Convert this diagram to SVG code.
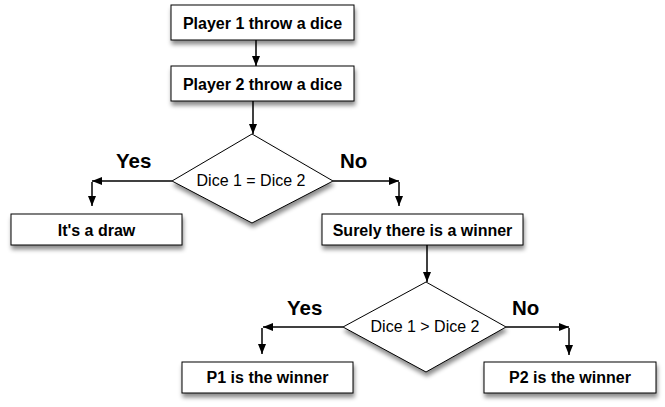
<svg xmlns="http://www.w3.org/2000/svg" width="665" height="407" viewBox="0 0 665 407">
<defs>
<filter id="sh" x="-20%" y="-30%" width="140%" height="170%">
<feDropShadow dx="1" dy="4" stdDeviation="2" flood-color="#000" flood-opacity="0.45"/>
</filter>
<marker id="ah" viewBox="0 0 10 8" refX="10" refY="4" markerWidth="10" markerHeight="8" markerUnits="userSpaceOnUse" orient="auto">
<path d="M0,0 L10,4 L0,8 Z" fill="#000"/>
</marker>
<style>
.box{fill:#fff;stroke:#000;stroke-width:1;filter:url(#sh)}
.bt{font-family:"Liberation Sans",Arial,sans-serif;font-weight:bold;font-size:16px;text-anchor:middle;fill:#000}
.dt{font-family:"Liberation Sans",Arial,sans-serif;font-size:16px;text-anchor:middle;fill:#000}
.lb{font-family:"Liberation Sans",Arial,sans-serif;font-weight:bold;font-size:20.5px;fill:#000}
.c{fill:none;stroke:#000;stroke-width:1.5;marker-end:url(#ah)}
</style>
</defs>
<rect width="665" height="407" fill="#fff"/>
<g id="connectors">
<line class="c" x1="256" y1="40" x2="256" y2="66"/>
<line class="c" x1="253" y1="101" x2="253" y2="134"/>
<line class="c" x1="172" y1="181" x2="92" y2="181"/>
<line class="c" x1="92" y1="182" x2="92" y2="206"/>
<line class="c" x1="333" y1="181" x2="399" y2="181"/>
<line class="c" x1="399" y1="182" x2="399" y2="206"/>
<line class="c" x1="427" y1="245" x2="427" y2="282"/>
<line class="c" x1="343" y1="327" x2="263" y2="327"/>
<line class="c" x1="262" y1="328" x2="262" y2="354"/>
<line class="c" x1="506" y1="327" x2="569" y2="327"/>
<line class="c" x1="569" y1="328" x2="569" y2="355"/>
</g>
<g id="p1throw">
<rect class="box" x="171" y="5" width="183" height="35"/>
<text class="bt" x="262.5" y="29">Player 1 throw a dice</text>
</g>
<g id="p2throw">
<rect class="box" x="171" y="66" width="183" height="35"/>
<text class="bt" x="262.5" y="90">Player 2 throw a dice</text>
</g>
<g id="dec1">
<polygon class="box" points="252,134 333,181 252,223 172,181"/>
<text class="dt" x="251" y="186">Dice 1 = Dice 2</text>
</g>
<text class="lb" x="116" y="168">Yes</text>
<text class="lb" x="340" y="168">No</text>
<g id="draw">
<rect class="box" x="11" y="214" width="171" height="31"/>
<text class="bt" x="96.5" y="235.5">It's a draw</text>
</g>
<g id="winner">
<rect class="box" x="322" y="214" width="201" height="31"/>
<text class="bt" x="422.5" y="235.5">Surely there is a winner</text>
</g>
<g id="dec2">
<polygon class="box" points="426,282 506,327 426,372 343,327"/>
<text class="dt" x="425" y="332">Dice 1 &gt; Dice 2</text>
</g>
<text class="lb" x="287" y="315">Yes</text>
<text class="lb" x="512" y="315">No</text>
<g id="p1win">
<rect class="box" x="182" y="362" width="171" height="31"/>
<text class="bt" x="267.5" y="383">P1 is the winner</text>
</g>
<g id="p2win">
<rect class="box" x="484" y="362" width="172" height="31"/>
<text class="bt" x="570" y="383">P2 is the winner</text>
</g>
</svg>
